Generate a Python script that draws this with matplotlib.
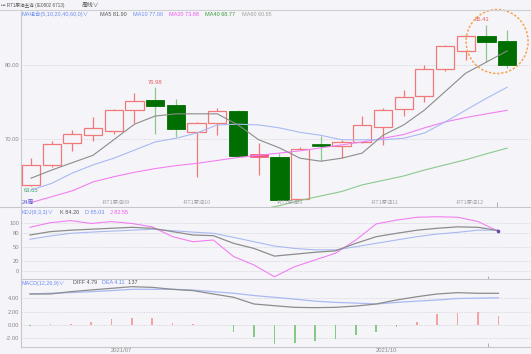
import matplotlib
matplotlib.use("Agg")
import matplotlib.pyplot as plt
from matplotlib.patches import Ellipse
import numpy as np

plt.rcParams['font.family'] = ['Liberation Sans', 'Noto Sans CJK SC', 'DejaVu Sans']

# ---------------- data ----------------
opens  = [63.8, 66.5, 69.4, 70.5, 71.1, 73.9, 75.3, 74.6, 70.9, 72.2, 73.8, 67.75,
          67.6, 61.9, 69.3, 69.1, 69.6, 71.6, 74.1, 75.8, 79.5, 81.9, 83.9, 83.2]
closes = [66.5, 69.3, 70.7, 71.5, 73.9, 75.1, 74.5, 71.4, 72.2, 73.8, 67.7, 67.85,
          61.8, 68.6, 69.1, 69.6, 71.9, 73.9, 75.7, 79.5, 82.6, 83.9, 83.1, 80.0]
highs  = [67.4, 69.7, 71.2, 73.0, 74.1, 76.2, 76.98, 75.4, 72.3, 74.2, 73.9, 69.5,
          68.1, 68.9, 70.4, 69.9, 73.1, 74.2, 76.6, 80.0, 82.7, 84.0, 85.41, 84.7]
lows   = [63.65, 66.2, 68.4, 69.7, 70.7, 72.2, 70.7, 70.3, 64.9, 70.5, 67.6, 65.1,
          61.6, 61.7, 67.0, 67.4, 69.5, 69.2, 73.1, 75.0, 79.2, 80.7, 80.4, 79.6]

ma5  = [64.7, 65.8, 66.8, 67.8, 69.9, 72.0, 73.1, 73.4, 73.4, 73.4, 71.9, 69.9,
        68.8, 67.4, 67.0, 67.4, 68.1, 70.5, 71.9, 73.9, 76.4, 78.9, 80.4, 81.9]
ma10 = [63.1, 64.0, 65.4, 66.5, 67.4, 68.5, 69.6, 70.1, 70.8, 71.9, 72.0, 71.9,
        71.5, 70.9, 70.5, 69.9, 69.9, 69.9, 70.1, 70.8, 72.3, 73.9, 75.5, 77.0]
ma20 = [61.4, 62.2, 63.0, 64.2, 64.9, 65.5, 66.0, 66.4, 66.7, 67.1, 67.5, 67.8,
        68.1, 68.4, 68.8, 69.2, 69.6, 70.1, 70.6, 71.5, 72.3, 72.9, 73.4, 73.88]
ma40 = [None] * 11 + [60.4, 61.0, 61.7, 62.3, 62.9, 63.8, 64.4, 65.0, 65.8, 66.5,
                      67.2, 68.0, 68.77]

k_vals = [75, 82, 85, 87, 89, 91, 89, 82, 75, 73.6, 57.6, 47, 31, 35, 39, 42,
          57.6, 71.5, 78.5, 85, 89, 92, 91, 84.2]
d_vals = [66, 73, 78.5, 81, 83, 85, 87, 84, 81, 78.5, 70, 61, 52, 47, 44, 44,
          50.6, 57.6, 64.6, 71.5, 77, 80.6, 85, 85.03]
j_vals = [91, 100.7, 105, 99, 103, 99, 92, 71.5, 61, 64.6, 30, 12.5, -12, 9, 23, 37,
          64.6, 98, 106, 112, 113, 112, 103, 82.55]

diff_vals = [4.69, 4.69, 5.04, 5.3, 5.55, 5.8, 5.7, 5.4, 5.2, 4.69, 4.18, 3.16,
             2.9, 2.65, 2.6, 2.65, 2.85, 3.16, 3.77, 4.27, 4.69, 4.89, 4.79, 4.79]
dea_vals = [4.69, 4.8, 4.9, 5.04, 5.2, 5.4, 5.4, 5.4, 5.3, 5.04, 4.8, 4.45,
            4.18, 3.9, 3.6, 3.4, 3.3, 3.16, 3.4, 3.6, 3.77, 4.0, 4.05, 4.11]
macd_vals = [-0.2, 0.05, 0.15, 0.45, 0.8, 1.05, 0.95, 0.3, 0.05, -0.1, -1.15, -1.8,
             -2.95, -2.75, -2.5, -2.2, -1.6, -1.05, -0.4, 0.35, 1.7, 1.85, 1.95, 1.37]

contract_labels = ["-RT1原油09", "-RT1原油10", "-RT1原油N", "-RT1原油11", "-RT1原油12"]
date_labels = ["2021/07", "2021/10"]

# ---------------- style ----------------
BG = '#f5f5f9'
RED = '#f07878'
GREEN = '#006e00'
GREEN_WICK = '#8cc88c'
GRAY_LINE = '#8c8c8c'
BLUE_LINE = '#a9b9f2'
PINK_LINE = '#f27ef2'
GREEN_LINE = '#8cc88c'
TXT = '#8a8a8a'
FS = 4.2
CJK = ['Liberation Sans', 'Noto Sans CJK SC', 'DejaVu Sans']

W, H = 531, 354
fig = plt.figure(figsize=(W / 100, H / 100), dpi=100, facecolor=BG)


def px_axes(left, top, right, bottom):
    return fig.add_axes([left / W, 1 - bottom / H, (right - left) / W, (bottom - top) / H])


def style(ax):
    ax.set_facecolor(BG)
    for s in ['top', 'right']:
        ax.spines[s].set_visible(False)
    ax.spines['left'].set_color('#c8c8cc')
    ax.spines['bottom'].set_color('#c8c8cc')
    ax.spines['left'].set_linewidth(0.8)
    ax.spines['bottom'].set_linewidth(0.8)
    ax.tick_params(axis='both', length=0, labelsize=FS, colors=TXT, pad=1.5)
    ax.grid(axis='y', color='#d4d4d8', linestyle=(0, (1.5, 1.5)), linewidth=0.6)
    ax.set_axisbelow(True)


x = np.arange(len(opens))

# ---------------- main panel ----------------
ax = px_axes(21, 10, W, 207)
style(ax)
ax.set_xlim(-0.48, 24.15)
ax.set_ylim(60.81, 87.43)
ax.set_yticks([70, 80])
ax.set_yticklabels(['70.00', '80.00'])
ax.set_xticks([])

bw = 0.88
for i in x:
    o, c, hi, lo = opens[i], closes[i], highs[i], lows[i]
    up = c >= o
    wick_col = RED if up else GREEN_WICK
    ax.vlines(i, lo, hi, color=wick_col, linewidth=0.9, zorder=2)
    h = abs(c - o)
    bottom = min(o, c)
    if h < 0.3:
        col = '#ef5b7a' if up else GREEN
        ax.bar(i, 0.35, bottom=(o + c) / 2 - 0.175, width=bw, color=col,
               edgecolor=col, linewidth=0.5, zorder=3)
    elif up:
        ax.bar(i, h, bottom=bottom, width=bw, facecolor=BG, edgecolor=RED,
               linewidth=0.9, zorder=3)
    else:
        ax.bar(i, h, bottom=bottom, width=bw, facecolor=GREEN, edgecolor=GREEN,
               linewidth=0.6, zorder=3)

ma40_arr = np.array([np.nan if v is None else v for v in ma40], dtype=float)
ax.plot(x, ma20, color=PINK_LINE, lw=0.8, zorder=4)
ax.plot(x, ma40_arr, color=GREEN_LINE, lw=0.8, zorder=4)
ax.plot(x, ma10, color=BLUE_LINE, lw=0.8, zorder=4)
ax.plot(x, ma5, color=GRAY_LINE, lw=0.8, zorder=4)

# extreme labels
ax.text(6, 76.98 + 0.35, '76.98', color='#e85858', fontsize=FS, ha='center', va='bottom')
ax.text(0.0, 63.65 - 0.3, '63.65', color='#3aa06a', fontsize=FS, ha='center', va='top')
ax.text(21.8, 85.41 + 0.35, '85.41', color='#e85858', fontsize=FS, ha='center', va='bottom')

# orange dashed circle
circ = Ellipse((0.9335, 0.84), width=62 / 510, height=64 / 197,
               transform=ax.transAxes, fill=False, edgecolor='#f5a24a',
               linestyle=(0, (1.5, 1.2)), linewidth=1.1, zorder=6, clip_on=False)
ax.add_patch(circ)

# contract labels along the bottom of the main panel
for xpos, lab in zip([4.1, 8.0, 12.5, 17.1, 21.2], contract_labels):
    ax.text(xpos, 0.012, lab, transform=ax.get_xaxis_transform(), fontsize=FS - 0.4,
            color='#a0a0a8', ha='center', va='bottom', family=CJK, zorder=7)
ax.text(0.002, 0.012, '24周', transform=ax.transAxes, fontsize=FS, color='#5a5ad0',
        ha='left', va='bottom', family=CJK, zorder=7)
ax.vlines(22.5, 0, 0.025, transform=ax.get_xaxis_transform(), color='#a0a0a8', lw=0.6)

# MA legend line
leg_items = [("MA组合(5,10,20,40,60,0)∨", '#6a8cf0', 22),
             ("MA5 81.90", '#555555', 100),
             ("MA10 77.00", '#6a8cf0', 133),
             ("MA20 73.88", '#f050f0', 169),
             ("MA40 68.77", '#3a9a3a', 205),
             ("MA60 60.65", '#a0a0a0', 242)]
for txt, col, xp in leg_items:
    fig.text(xp / W, 1 - 14.5 / H, txt, color=col, fontsize=FS - 0.2, ha='left',
             va='center', family=CJK)

# header
fig.text(1 / W, 1 - 5 / H, "••• RT1原油主连 (IE0802 6713)", color='#555555',
         fontsize=3.3, ha='left', va='center', family=CJK)
fig.text(82 / W, 1 - 5 / H, "周线∨", color='#555555', fontsize=FS,
         ha='left', va='center', family=CJK)
fig.add_artist(plt.Line2D([0, 1], [1 - 10 / H, 1 - 10 / H], transform=fig.transFigure,
                          color='#d0d0d4', lw=0.8))
fig.add_artist(plt.Line2D([0, 21 / W], [1 - 207 / H, 1 - 207 / H], transform=fig.transFigure,
                          color='#c8c8cc', lw=0.8))

# ---------------- KDJ panel ----------------
ax2 = px_axes(21, 208, W, 279)
style(ax2)
ax2.set_xlim(-0.44, 24.6)
ax2.set_ylim(-16.7, 131.25)
ax2.set_yticks([0, 20, 50, 80, 100])
ax2.set_yticklabels(['0', '20', '50', '80', '100'])
ax2.set_xticks([])
ax2.plot(x, d_vals, color=BLUE_LINE, lw=0.8, zorder=4)
ax2.plot(x, j_vals, color=PINK_LINE, lw=0.8, zorder=4)
ax2.plot(x, k_vals, color=GRAY_LINE, lw=0.9, zorder=5)
ax2.plot([23], [k_vals[-1]], marker='o', ms=1.6, color='#6a4aa8', zorder=6)
ax2.vlines(22.5, 0, 0.04, transform=ax2.get_xaxis_transform(), color='#a0a0a8', lw=0.6)

kdj_items = [("KDJ(9,3,3)∨", '#6a8cf0', 22), ("K 84.20", '#555555', 60),
             ("D 85.03", '#6a8cf0', 85), ("J 82.55", '#f050f0', 110)]
for txt, col, xp in kdj_items:
    fig.text(xp / W, 1 - 212 / H, txt, color=col, fontsize=FS - 0.2, ha='left', va='center')

# ---------------- MACD panel ----------------
ax3 = px_axes(21, 280, W, 347)
style(ax3)
ax3.set_xlim(-0.44, 24.6)
ax3.set_ylim(-3.40, 6.82)
ax3.set_yticks([-2, 0, 2, 4])
ax3.set_yticklabels(['-2.00', '0.00', '2.00', '4.00'])
ax3.set_xticks([4.5, 17.5])
ax3.set_xticklabels(date_labels)
ax3.tick_params(axis='x', pad=1.0)
bar_cols = ['#f4a2a2' if v >= 0 else '#86c886' for v in macd_vals]
ax3.bar(x, macd_vals, width=0.08, color=bar_cols, zorder=3)
ax3.plot(x, dea_vals, color=BLUE_LINE, lw=0.9, zorder=4)
ax3.plot(x, diff_vals, color=GRAY_LINE, lw=0.9, zorder=5)
ax3.vlines(22.5, 0, 0.06, transform=ax3.get_xaxis_transform(), color='#a0a0a8', lw=0.6)

macd_items = [("MACD(12,26,9)∨", '#6a8cf0', 22), ("DIFF 4.79", '#555555', 73),
              ("DEA 4.11", '#6a8cf0', 102), ("1.37", '#555555', 128)]
for txt, col, xp in macd_items:
    fig.text(xp / W, 1 - 283 / H, txt, color=col, fontsize=FS - 0.3, ha='left', va='center')

fig.savefig('out.png', dpi=100, facecolor=BG)
